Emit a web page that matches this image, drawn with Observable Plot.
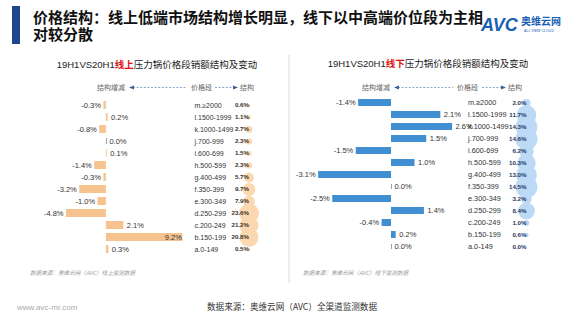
<!DOCTYPE html>
<html><head><meta charset="utf-8">
<script src="https://cdn.jsdelivr.net/npm/d3@7"></script>
<script src="https://cdn.jsdelivr.net/npm/@observablehq/plot@0.6"></script>
<style>
body{margin:0;background:#fff;}
#root{position:relative;width:580px;height:326px;overflow:hidden;font-family:"Liberation Sans","Noto Sans CJK SC",sans-serif;background:#fff;}
.abs{position:absolute;}
#deco text{font-family:"Liberation Sans","Noto Sans CJK SC",sans-serif;}
#deco text.cjk{font-family:"Noto Sans CJK SC",sans-serif;}
#title{left:33px;top:8px;width:445px;font-family:"Noto Sans CJK SC",sans-serif;font-size:15px;font-weight:bold;line-height:17px;color:#111;white-space:nowrap;}
</style></head><body>
<div id="root">
<svg id="deco" class="abs" width="580" height="326" style="left:0;top:0">
  <rect x="12" y="6" width="8" height="38" fill="#1f4591"></rect>
  <text x="481" y="31" font-size="18" font-weight="bold" font-style="italic" fill="#1b5fb5">AVC</text>
  <text class="cjk" x="521" y="25" font-size="10" font-weight="bold" fill="#1b5fb5">奥维云网</text>
  <text x="524" y="31.5" font-size="3.6" fill="#1b5fb5">ALL VIEW CLOUD</text>

  <text x="157" y="68" font-size="9.5" fill="#222" text-anchor="middle">19H1VS20H1<tspan fill="#e01010" font-weight="bold">线上</tspan>压力锅价格段销额结构及变动</text>
  <text x="428" y="67" font-size="9.5" fill="#222" text-anchor="middle">19H1VS20H1<tspan fill="#e01010" font-weight="bold">线下</tspan>压力锅价格段销额结构及变动</text>

  <line x1="289" y1="55" x2="289" y2="283" stroke="#d9d9d9" stroke-width="1"></line>

  <g font-size="7" fill="#666">
    <text class="cjk" x="125" y="90" text-anchor="end">结构增减</text>
    <text class="cjk" x="191" y="90">价格段</text>
    <text class="cjk" x="240" y="90">结构</text>
    <text class="cjk" x="390" y="90" text-anchor="end">结构增减</text>
    <text class="cjk" x="457" y="90">价格段</text>
    <text class="cjk" x="508" y="90">结构</text>
  </g>
  <g stroke="#6d8fbf" stroke-width="0.8" stroke-dasharray="2,1.6" fill="none">
    <line x1="133" y1="87.5" x2="186" y2="87.5"></line>
    <line x1="215" y1="87.5" x2="234" y2="87.5"></line>
    <line x1="398" y1="87.5" x2="453" y2="87.5"></line>
    <line x1="482" y1="87.5" x2="502" y2="87.5"></line>
  </g>
  <g fill="#3a5f9a">
    <path d="M129,87.5 L134,85.5 L134,89.5 Z"></path>
    <path d="M238,87.5 L233,85.5 L233,89.5 Z"></path>
    <path d="M394,87.5 L399,85.5 L399,89.5 Z"></path>
    <path d="M506,87.5 L501,85.5 L501,89.5 Z"></path>
  </g>

  <text class="cjk" x="30" y="275" font-size="5.6" font-style="italic" fill="#9a9a9a">数据来源：奥维云网（AVC）线上监测数据</text>
  <text class="cjk" x="303" y="275" font-size="5.6" font-style="italic" fill="#9a9a9a">数据来源：奥维云网（AVC）线下监测数据</text>
  <text x="17" y="310" font-size="8" fill="#aaa">www.avc-mr.com</text>
  <text class="cjk" x="292" y="310" font-size="8.6" fill="#333" text-anchor="middle">数据来源：奥维云网（AVC）全渠道监测数据</text>
</svg>
<div id="title" class="abs">价格结构：线上低端市场结构增长明显，线下以中高端价位段为主相<br>对较分散</div>
<div id="left" class="abs" style="left:0;top:85px"></div>
<div id="right" class="abs" style="left:287px;top:82px"></div>
</div>
<script>
const cats = ["m.≥2000","l.1500-1999","k.1000-1499","j.700-999","i.600-699","h.500-599","g.400-499","f.350-399","e.300-349","d.250-299","c.200-249","b.150-199","a.0-149"];
const onlineChg = [-0.3,0.2,-0.8,0.0,0.1,-1.4,-0.3,-3.2,-1.0,-4.8,2.1,9.2,0.3];
const onlineShare = [0.6,1.1,2.7,2.3,1.5,2.3,5.7,9.7,7.9,23.6,21.2,20.8,0.5];
const offlineChg = [-1.4,2.1,2.6,1.5,-1.5,1.0,-3.1,0.0,-2.5,1.4,-0.4,0.2,0.0];
const offlineShare = [2.0,11.7,14.3,14.6,6.2,10.3,13.0,14.5,3.2,8.4,1.0,0.6,0.0];

const fmt = v => v.toFixed(1) + "%";
const FONT = '"Liberation Sans", Arial, "Noto Sans CJK SC", sans-serif';

function panel(chg, share, cfg) {
  const data = cats.map((c, i) => ({cat: c, chg: chg[i], share: share[i]}));
  const neg = data.filter(d => d.chg < 0);
  const zero = data.filter(d => d.chg === 0);
  const posOut = data.filter(d => d.chg >= 0 && d.chg < cfg.inside);
  const posIn = data.filter(d => d.chg >= cfg.inside);
  return Plot.plot({
    width: cfg.width,
    height: cfg.height,
    marginLeft: cfg.ml,
    marginRight: cfg.mr,
    marginTop: 10,
    marginBottom: 10,
    style: {fontFamily: FONT, fontSize: "7.3px", color: "#333", background: "transparent", overflow: "visible"},
    x: {domain: cfg.domain, axis: null},
    y: {domain: cats, padding: cfg.padding, axis: null},
    r: {type: "sqrt", domain: [0, d3.max(share)], range: [0, cfg.rmax]},
    marks: [
      Plot.dot(data, {y: "cat", r: "share", fill: cfg.bubble, frameAnchor: "right", dx: cfg.dxShare}),
      Plot.barX(data, {x: "chg", y: "cat", fill: cfg.bar}),
      Plot.tickX(zero, {x: "chg", y: "cat", stroke: "#888", strokeWidth: 0.8, inset: 1}),
      Plot.text(neg, {x: "chg", y: "cat", text: d => fmt(d.chg), textAnchor: "end", dx: -3, fontSize: 7.5, fill: "#333"}),
      Plot.text(posOut, {x: "chg", y: "cat", text: d => fmt(d.chg), textAnchor: "start", dx: 3, fontSize: 7.5, fill: "#333"}),
      Plot.text(posIn, {x: "chg", y: "cat", text: d => fmt(d.chg), textAnchor: "end", dx: -1, fontSize: 7.5, fill: "#333"}),
      Plot.axisY({anchor: "right", tickSize: 0, tickPadding: cfg.tickPad, label: null, fontSize: cfg.catSize, fill: "#333"}),
      Plot.text(data, {y: "cat", text: d => fmt(d.share), frameAnchor: "right", dx: cfg.dxShare, fontSize: 6.2, fontWeight: "bold", fill: cfg.shareColor})
    ]
  });
}

document.getElementById("left").append(panel(onlineChg, onlineShare, {
  width: 287, height: 183, ml: 56, mr: 98, domain: [-6, 10], padding: 0.35, catSize: 7,
  rmax: 10, dxShare: 59.5, tickPad: 5, inside: 8, bar: "#f6c38f", bubble: "#fbd8b0", shareColor: "#3a3028"
}));
document.getElementById("right").append(panel(offlineChg, offlineShare, {
  width: 293, height: 185, ml: 10, mr: 118.5, domain: [-4, 3], padding: 0.45, catSize: 7.3,
  rmax: 11, dxShare: 64.5, tickPad: 6, inside: 99, bar: "#3f8fd2", bubble: "#bcdaf5", shareColor: "#1f3864"
}));
</script>
</body></html>
